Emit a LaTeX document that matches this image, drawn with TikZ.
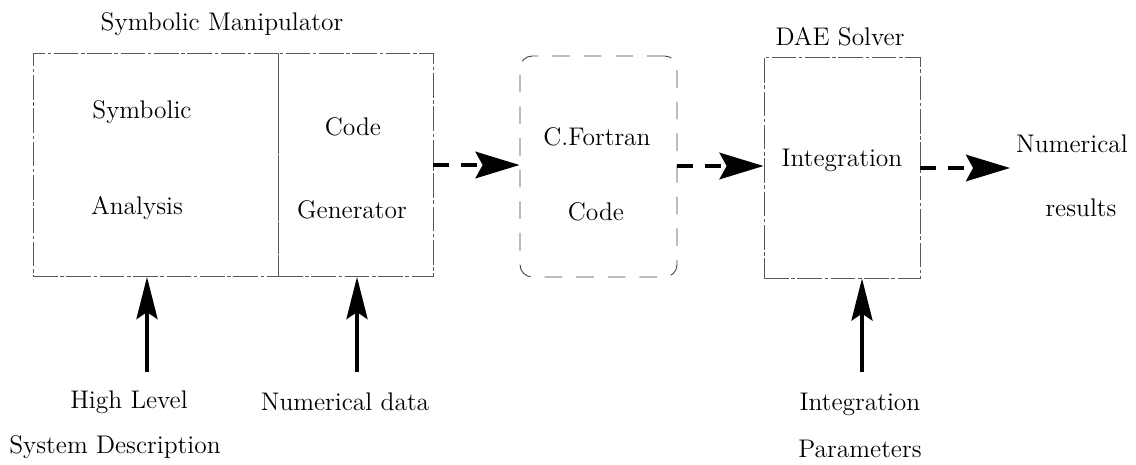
\documentclass[tikz,border=0pt]{standalone}
\usetikzlibrary{arrows.meta}
\begin{document}
\begin{tikzpicture}[x=0.02cm,y=-0.02cm,
  every node/.style={font=\fontsize{14.5}{17}\selectfont},
  blk/.style={draw=black!65,line width=0.5pt,dash pattern=on 14pt off 1.5pt on 2pt off 1.5pt,inner sep=0pt},
  dflow/.style={line width=2.6pt,dash pattern=on 9pt off 7pt,-{Stealth[length=25pt,width=15pt,inset=4pt]}},
  uflow/.style={line width=2.2pt,-{Stealth[length=24pt,width=12pt,inset=4pt]}},
  lbl/.style={inner sep=0pt,anchor=center}]
\useasboundingbox (0,0) rectangle (1136,464);
% boxes
\node[blk,minimum width=245*0.02cm,minimum height=223*0.02cm] (sym) at (155.5,165) {};
\node[blk,minimum width=155*0.02cm,minimum height=223*0.02cm] (gen) at (355.5,165) {};
\node[blk,draw=black!75,rounded corners=7pt,dash pattern=on 10pt off 8pt,minimum width=157*0.02cm,minimum height=221*0.02cm] (cf) at (598.5,166.5) {};
\node[blk,minimum width=156*0.02cm,minimum height=221*0.02cm] (dae) at (842,167.5) {};
% titles and inner texts
\node[lbl] (tsm) at (222,24) {Symbolic Manipulator};
\node[lbl] (t1) at (142,112) {Symbolic};
\node[lbl] (t2) at (137,208) {Analysis};
\node[lbl] (t3) at (353,127) {Code};
\node[lbl] (t4) at (352,210) {Generator};
\node[lbl] (t5) at (597,137) {C.Fortran};
\node[lbl] (t6) at (596,212) {Code};
\node[lbl] (tdae) at (840,37) {DAE Solver};
\node[lbl] (t7) at (842,160) {Integration};
\node[lbl] (t8) at (1072,144) {Numerical};
\node[lbl] (t9) at (1081,208) {results};
% bottom labels
\node[lbl] (b1) at (129,402) {High Level};
\node[lbl] (b2) at (115,447) {System Description};
\node[lbl] (b3) at (345,402) {Numerical data};
\node[lbl] (b4) at (860,404) {Integration};
\node[lbl] (b5) at (860,449) {Parameters};
% horizontal dashed arrows
\coordinate (a1s) at (433,165);
\coordinate (a2s) at (677,166);
\coordinate (a3s) at (920,168);
\coordinate (a3e) at (1010,168);
\draw[dflow] (a1s) -- (a1s -| cf.west);
\draw[dflow] (a2s) -- (a2s -| dae.west);
\draw[dflow] (a3s) -- (a3e);
% vertical input arrows
\coordinate (i1) at (147,372);
\coordinate (i2) at (357,372);
\coordinate (i3) at (862,372);
\draw[uflow] (i1) -- (i1 |- sym.south);
\draw[uflow] (i2) -- (i2 |- gen.south);
\draw[uflow] (i3) -- (i3 |- dae.south);
\end{tikzpicture}
\end{document}
